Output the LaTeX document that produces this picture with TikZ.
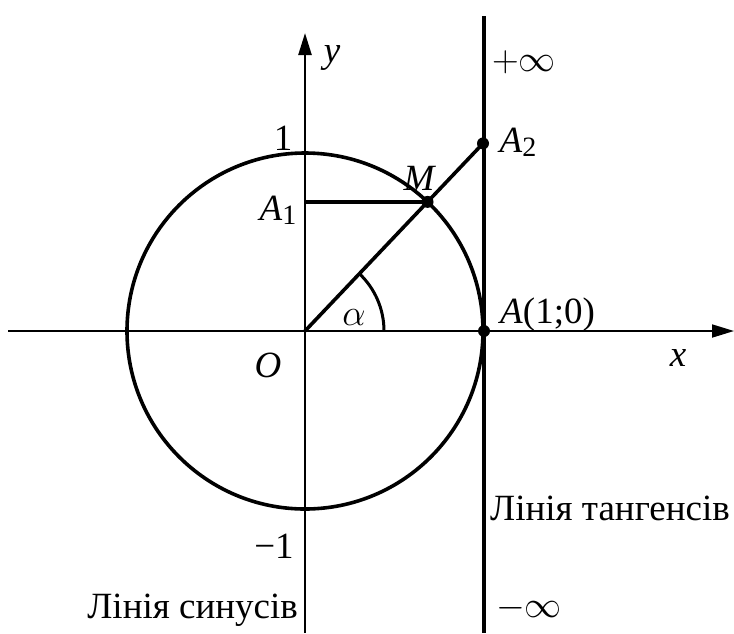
\documentclass[tikz,border=0pt]{standalone}
\usepackage{fix-cm}
\usepackage{fontspec}
\setmainfont{Liberation Serif}
\usetikzlibrary{arrows.meta,calc}
\begin{document}
\begin{tikzpicture}[x=1pt,y=-1pt,
  axisline/.style={line width=1.8pt,-{Triangle[length=22pt,width=13pt]}},
  boldline/.style={line width=3.6pt},
  lbl/.style={inner sep=0pt,font=\fontsize{37}{40}\selectfont},
  dot/.style={circle,fill=black,inner sep=0pt,minimum size=12pt}]
\useasboundingbox (0,0) rectangle (734,633);
% key points
\coordinate (O) at (305,331);
\coordinate (xs) at (8,331);
\coordinate (xe) at (734,331);
\coordinate (ys) at (305,633);
\coordinate (ye) at (305,33);
\coordinate (ts) at (484,16);
\coordinate (te) at (484,633);
% axes
\draw[axisline] (xs) -- (xe);
\draw[axisline,line width=2.4pt] (ys) -- (ye);
% tangent line
\draw[boldline,line width=3.8pt] (ts) -- (te);
% circle
\draw[boldline] (O) circle[radius=178];
% points
\path (O) ++(46.5:178 and -178) coordinate (Mp);
\coordinate (A1c) at (O |- Mp);
\coordinate (A2c) at ($(O)!1/cos(46.5)!(Mp)$);
\coordinate (Ac) at (484,331);
\draw[boldline] (O) -- (A2c);
\draw[boldline] (A1c) -- (Mp);
% angle arc
\draw[boldline,line width=3pt] ($(O)+(79,0)$) arc[start angle=0,end angle=-46.5,radius=79];
\node[dot] (Mdot) at (Mp) {};
\node[dot] (A2dot) at (A2c) {};
\node[dot] (Adot) at (Ac) {};
% labels
\node[lbl] (one) at (283,138) {1};
\node[lbl] (lA1) at (278,210) {\textit{A}\raisebox{-0.25ex}{\fontsize{28}{28}\selectfont 1}};
\node[lbl] (lM) at (420,178) {\textit{M}};
\node[lbl] (lA2) at (518,142) {\textit{A}\raisebox{-0.25ex}{\fontsize{28}{28}\selectfont 2}};
\node[lbl] (lal) at (354,318) {$\alpha$};
\node[lbl,anchor=west] (lA) at (500,315) {\textit{A}(1;0)};
\node[lbl] (lx) at (678,358) {\textit{x}};
\node[lbl] (lO) at (268,365) {\textit{O}};
\node[lbl] (lm1) at (274,546) {−1};
\node[lbl] (ly) at (332,58) {\textit{y}};
\node[lbl,anchor=west] (lpinf) at (492,62) {$+\infty$};
\node[lbl,anchor=west] (lminf) at (496,608) {$-\infty$};
\node[lbl,anchor=base west] (ltan) at (490,520) {Лінія тангенсів};
\node[lbl,anchor=base east] (lsin) at (298,618) {Лінія синусів};
\end{tikzpicture}
\end{document}
